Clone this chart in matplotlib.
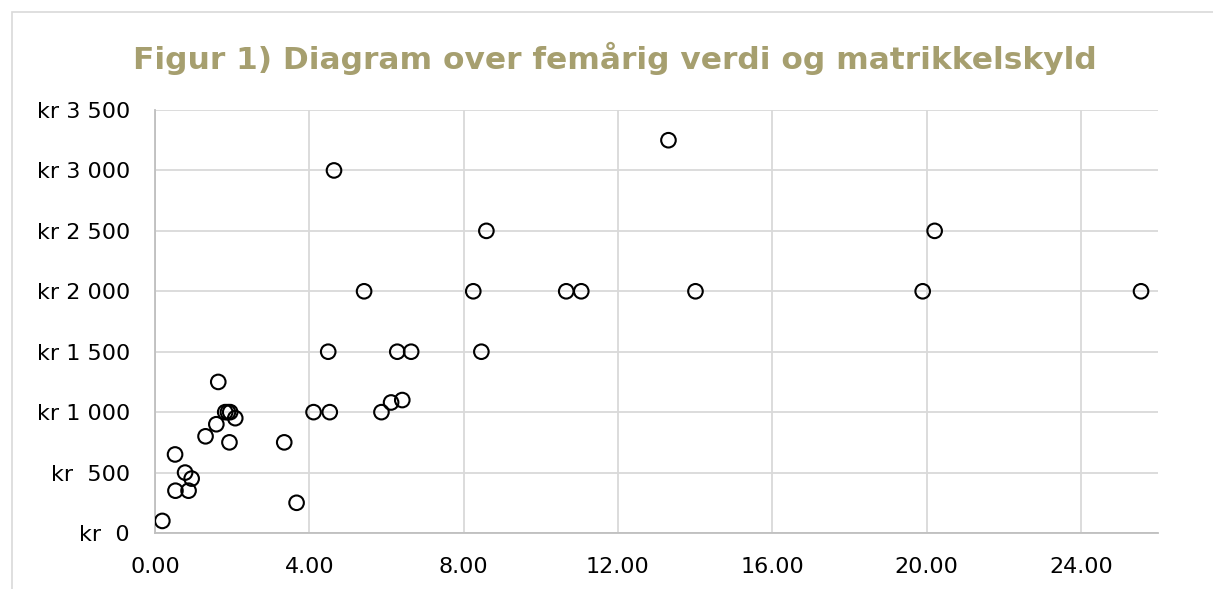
import matplotlib
matplotlib.use('Agg')
import matplotlib.pyplot as plt
from matplotlib.patches import Rectangle

# femårig verdi (x) og matrikkelskyld (y, kr)
verdi = [0.19, 0.52, 0.53, 0.78, 0.87, 0.95, 1.31, 1.59, 1.64, 1.82, 1.89, 1.95,
         1.93, 2.08, 3.35, 3.67, 4.11, 4.49, 4.53, 4.64, 5.42, 5.87, 6.12, 6.28,
         6.41, 6.64, 8.25, 8.46, 8.59, 10.66, 11.05, 13.31, 14.01, 19.90, 20.21, 25.56]
skyld = [100, 650, 350, 500, 350, 450, 800, 900, 1250, 1000, 1000, 1000,
         750, 950, 750, 250, 1000, 1500, 1000, 3000, 2000, 1000, 1080, 1500,
         1100, 1500, 2000, 1500, 2500, 2000, 2000, 3250, 2000, 2000, 2500, 2000]

x_ticks = [0, 4, 8, 12, 16, 20, 24]
y_ticks = [0, 500, 1000, 1500, 2000, 2500, 3000, 3500]
y_labels = ['kr  0', 'kr  500', 'kr 1 000', 'kr 1 500', 'kr 2 000',
            'kr 2 500', 'kr 3 000', 'kr 3 500']

title_col = '#A69F6F'
grid_col = '#D9D9D9'

fig = plt.figure(figsize=(12.13, 5.89), dpi=100)
fig.patches.append(Rectangle((12/1213, -0.1), 1.2, 1 - 12/589 + 0.1,
                             transform=fig.transFigure, fill=False,
                             edgecolor=grid_col, linewidth=1.2))

ax = fig.add_axes([155/1213, 1 - 533/589, (1158-155)/1213, (533-110)/589])
ax.scatter(verdi, skyld, s=110, facecolors='none', edgecolors='black',
           linewidths=1.5, zorder=3)

ax.set_xlim(0, 26)
ax.set_ylim(0, 3500)
ax.set_xticks(x_ticks)
ax.set_xticklabels(['%.2f' % v for v in x_ticks])
ax.set_yticks(y_ticks)
ax.set_yticklabels(y_labels)
ax.tick_params(axis='both', length=0, labelsize=16, colors='black')
ax.tick_params(axis='x', pad=17)
ax.tick_params(axis='y', pad=18)

ax.grid(True, color=grid_col, linewidth=1.3, zorder=0)
ax.set_axisbelow(True)
for s in ['top', 'right']:
    ax.spines[s].set_visible(False)
for s in ['left', 'bottom']:
    ax.spines[s].set_color('#BFBFBF')
    ax.spines[s].set_linewidth(1.3)

fig.text(615/1213, 1 - 58/589, 'Figur 1) Diagram over femårig verdi og matrikkelskyld',
         ha='center', va='center', fontsize=22.5, fontweight='bold', color=title_col)

fig.savefig('out.png', dpi=100)
